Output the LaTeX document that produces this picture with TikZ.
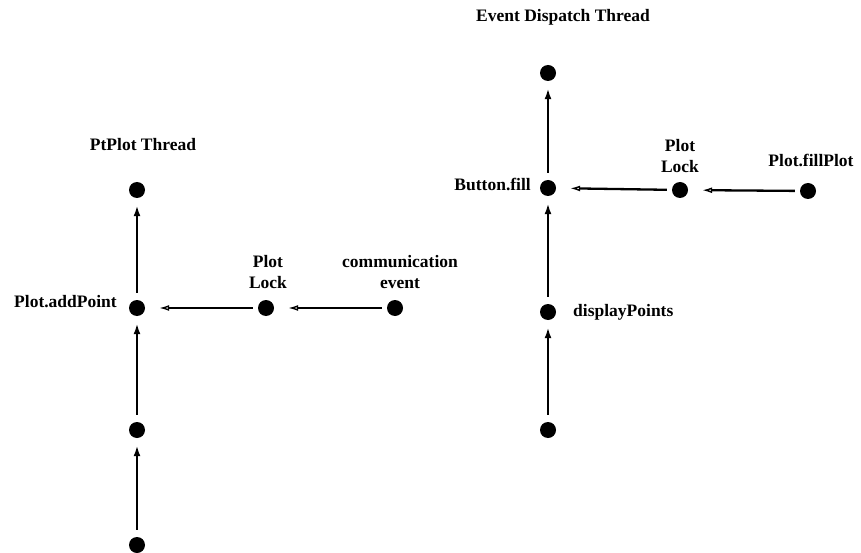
\documentclass[tikz,border=0pt]{standalone}
\usepackage{fontspec}
\setmainfont{Liberation Serif}
\usetikzlibrary{arrows.meta}
\begin{document}
\begin{tikzpicture}[x=1pt,y=-1pt,
  dot/.style={circle,fill=black,inner sep=0pt,minimum size=16pt},
  lbl/.style={font=\bfseries\fontsize{17.5}{21}\selectfont,align=center,inner sep=0pt},
  callarrow/.style={line width=2.3pt,-{Latex[length=11pt,width=7pt]},shorten <=7pt,shorten >=7pt},
  lockarrow/.style={line width=2.3pt,-{Latex[open,length=10pt,width=6pt,line width=1.4pt]},shorten <=5pt,shorten >=14pt}]
\useasboundingbox (0,0) rectangle (861,553);

% PtPlot thread
\node[lbl] (ptitle) at (143,145) {PtPlot Thread};
\node[dot] (p1) at (137,190) {};
\node[dot] (p2) at (137,308) {};
\node[dot] (p3) at (137,430) {};
\node[dot] (p4) at (137,545) {};
\node[dot] (plock) at (266,308) {};
\node[dot] (pcomm) at (395,308) {};
\node[lbl,anchor=east] (paddl) at (117,302) {Plot.addPoint};
\node[lbl] (plockl) at (268,272) {Plot\\Lock};
\node[lbl] (pcomml) at (400,272) {communication\\event};

\draw[callarrow] (p2) -- (p1);
\draw[callarrow] (p3) -- (p2);
\draw[callarrow] (p4) -- (p3);
\draw[lockarrow] (plock) -- (p2);
\draw[lockarrow] (pcomm) -- (plock);

% Event dispatch thread
\node[lbl] (etitle) at (563,17) {Event Dispatch Thread};
\node[dot] (e1) at (548,73) {};
\node[dot] (e2) at (548,188) {};
\node[dot] (e3) at (548,312) {};
\node[dot] (e4) at (548,430) {};
\node[dot] (elock) at (680,190) {};
\node[dot] (efill) at (808,191) {};
\node[lbl,anchor=east] (ebtnl) at (531,184) {Button.fill};
\node[lbl,anchor=west] (edispl) at (573,312) {displayPoints};
\node[lbl] (elockl) at (680,156) {Plot\\Lock};
\node[lbl] (efilll) at (811,160) {Plot.fillPlot};

\draw[callarrow] (e2) -- (e1);
\draw[callarrow] (e3) -- (e2);
\draw[callarrow] (e4) -- (e3);
\draw[lockarrow] (elock) -- (e2);
\draw[lockarrow] (efill) -- (elock);
\end{tikzpicture}
\end{document}
